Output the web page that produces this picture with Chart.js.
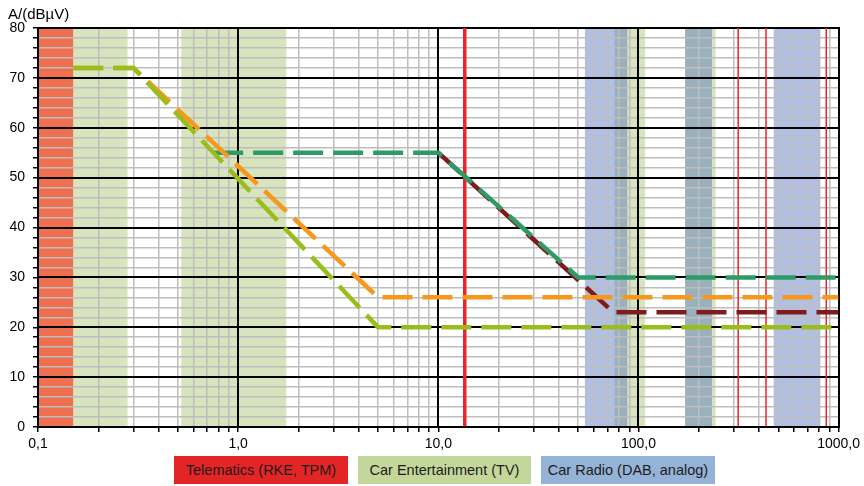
<!DOCTYPE html>
<html>
<head>
<meta charset="utf-8">
<script src="https://cdn.jsdelivr.net/npm/chart.js@4/dist/chart.umd.min.js"></script>
<style>
  html, body { margin: 0; padding: 0; background: #fff; }
  .wrap { position: relative; width: 864px; height: 486px; }
  .legend-box {
    position: absolute; top: 456px; height: 28px;
    display: flex; align-items: center; justify-content: center;
    font-family: "Liberation Sans", Arial, sans-serif; font-size: 14.5px; color: #1c1c1c;
  }
  .telematics { left: 174px; width: 174px; background: #e42526; }
  .entertainment { left: 358px; width: 173px; background: #c4d79b; }
  .radio { left: 541px; width: 174px; background: #95b3d7; }
</style>
</head>
<body>
<div class="wrap">
  <canvas id="chart" width="864" height="486"></canvas>
  <div class="legend-box telematics">Telematics (RKE, TPM)</div>
  <div class="legend-box entertainment">Car Entertainment (TV)</div>
  <div class="legend-box radio">Car Radio (DAB, analog)</div>
</div>
<script>
"use strict";
//------------------------- data (frequency in MHz, level in dBµV) -------------------------
let lightGreenFreq = [0.15, 0.3, 5, 1000];
let lightGreenLevel = [72, 72, 20, 20];

let orangeFreq = [0.15, 0.3, 5, 1000];
let orangeLevel = [72, 72, 26, 26];

let darkGreenFreq = [0.75, 10, 50, 1000];
let darkGreenLevel = [55, 55, 30, 30];

let maroonFreq = [10, 75, 1000];
let maroonLevel = [55, 23, 23];

// shaded frequency bands [from, to]
let telematicsBands = [[0.1, 0.15]];
let entertainmentBands = [[0.15, 0.28], [0.52, 1.74], [76, 108], [171, 243]];
let radioBands = [[54, 88], [171, 233], [474, 811]];

// red marker lines
let thickMarkers = [13.56];
let thinMarkers = [315, 433.92, 868];

// tick labels
let xDecades = [0.1, 1, 10, 100, 1000];
let xDecadeLabels = ["0,1", "1,0", "10,0", "100,0", "1000,0"];
let yMin = 0;
let yMax = 80;
let yStep = 2;
let yMajor = [0, 10, 20, 30, 40, 50, 60, 70, 80];

//------------------------- helpers ---------------------------------------------------------
function toPoints(freqs, levels) {
  return freqs.map((f, i) => ({ x: f, y: levels[i] }));
}

function lineSet(label, freqs, levels, color, order) {
  return {
    label: label,
    data: toPoints(freqs, levels),
    borderColor: color,
    borderWidth: 4.5,
    borderDash: [30, 10],
    borderCapStyle: "butt",
    pointRadius: 0,
    tension: 0,
    fill: false,
    order: order
  };
}

function isDecade(v) {
  return xDecades.some(d => Math.abs(d - v) < d * 1e-6);
}

//------------------------- plugins ---------------------------------------------------------
// coloured bands under the grid
let bandsPlugin = {
  id: "bands",
  beforeDraw(chart) {
    let ctx = chart.ctx;
    let area = chart.chartArea;
    let x = chart.scales.x;
    function paint(bands, color) {
      ctx.fillStyle = color;
      for (let b of bands) {
        let x1 = x.getPixelForValue(b[0]);
        let x2 = x.getPixelForValue(b[1]);
        ctx.fillRect(x1, area.top, x2 - x1, area.bottom - area.top);
      }
    }
    ctx.save();
    paint(telematicsBands, "rgb(239,112,81)");
    paint(entertainmentBands, "rgba(155,187,89,0.4)");
    paint(radioBands, "rgba(79,113,190,0.45)");
    ctx.restore();
  }
};

// black major grid on top of the grey one, then the red markers
let majorGridPlugin = {
  id: "majorGrid",
  beforeDatasetsDraw(chart) {
    let ctx = chart.ctx;
    let area = chart.chartArea;
    let x = chart.scales.x;
    let y = chart.scales.y;
    ctx.save();
    ctx.strokeStyle = "#000";
    ctx.lineWidth = 2;
    for (let d of xDecades) {
      let px = Math.round(x.getPixelForValue(d));
      ctx.beginPath();
      ctx.moveTo(px, area.top - 1);
      ctx.lineTo(px, area.bottom + 1);
      ctx.stroke();
    }
    for (let v of yMajor) {
      let py = Math.round(y.getPixelForValue(v));
      ctx.beginPath();
      ctx.moveTo(area.left - 1, py);
      ctx.lineTo(area.right + 1, py);
      ctx.stroke();
    }

    ctx.strokeStyle = "#e8262a";
    function draw(list, width) {
      ctx.lineWidth = width;
      for (let f of list) {
        let px = x.getPixelForValue(f);
        ctx.beginPath();
        ctx.moveTo(px, area.top);
        ctx.lineTo(px, area.bottom - 1);
        ctx.stroke();
      }
    }
    draw(thickMarkers, 3.5);
    draw(thinMarkers, 1.5);
    ctx.restore();
  }
};

let yTitlePlugin = {
  id: "yTitle",
  afterDraw(chart) {
    let ctx = chart.ctx;
    ctx.save();
    ctx.fillStyle = "#000";
    ctx.font = "15px 'Liberation Sans', Arial, sans-serif";
    ctx.textBaseline = "alphabetic";
    ctx.fillText("A/(dBµV)", 8, 19);
    ctx.restore();
  }
};

//------------------------- chart -----------------------------------------------------------
let tickFont = { family: "'Liberation Sans', Arial, sans-serif", size: 14 };
let clear = "rgba(0,0,0,0)";

new Chart(document.getElementById("chart"), {
  type: "line",
  data: {
    datasets: [
      lineSet("light green", lightGreenFreq, lightGreenLevel, "#99be1b", 0),
      lineSet("orange", orangeFreq, orangeLevel, "#f7981d", 1),
      lineSet("dark green", darkGreenFreq, darkGreenLevel, "#2e9a65", 2),
      lineSet("maroon", maroonFreq, maroonLevel, "#7f1a1d", 3)
    ]
  },
  options: {
    responsive: false,
    devicePixelRatio: 1,
    animation: false,
    layout: { padding: { top: 28, right: 24, bottom: 0, left: 0 } },
    plugins: {
      legend: { display: false },
      tooltip: { enabled: false }
    },
    scales: {
      x: {
        type: "logarithmic",
        min: xDecades[0],
        max: xDecades[xDecades.length - 1],
        afterBuildTicks(scale) {
          let ticks = [];
          for (let d = 0; d < xDecades.length - 1; d++) {
            for (let m = 1; m < 10; m++) ticks.push({ value: xDecades[d] * m });
          }
          ticks.push({ value: xDecades[xDecades.length - 1] });
          scale.ticks = ticks;
        },
        afterFit(scale) { scale.height = 59; },
        border: { color: "#000", width: 2 },
        grid: {
          color: c => isDecade(c.tick.value) ? clear : "#bebebe",
          lineWidth: 1.5,
          tickColor: "#000",
          tickLength: 5,
          tickWidth: 1.5
        },
        ticks: {
          autoSkip: false,
          maxRotation: 0,
          padding: 4,
          color: "#000",
          font: tickFont,
          callback: function (value) {
            let i = xDecades.findIndex(d => Math.abs(d - value) < d * 1e-6);
            return i >= 0 ? xDecadeLabels[i] : "";
          }
        }
      },
      y: {
        type: "linear",
        min: yMin,
        max: yMax,
        afterFit(scale) { scale.width = 38; },
        border: { color: "#000", width: 2 },
        grid: {
          color: c => c.tick.value % 10 === 0 ? clear : "#bebebe",
          lineWidth: 1.5,
          tickColor: "#000",
          tickLength: 5,
          tickWidth: 1.5
        },
        ticks: {
          stepSize: yStep,
          autoSkip: false,
          padding: 8,
          color: "#000",
          font: tickFont,
          callback: v => v % 10 === 0 ? String(v) : ""
        }
      }
    }
  },
  plugins: [bandsPlugin, majorGridPlugin, yTitlePlugin]
});
</script>
</body>
</html>
